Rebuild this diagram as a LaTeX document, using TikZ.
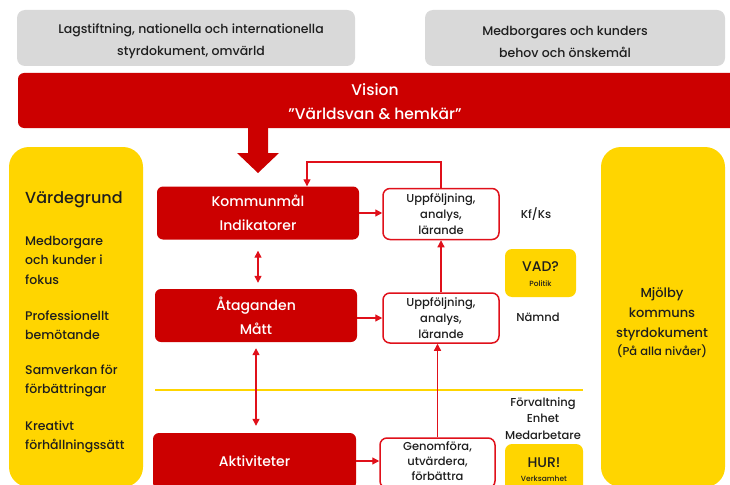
\documentclass[tikz,border=0pt]{standalone}
\usepackage{fontspec}
\setmainfont{Poppins}[UprightFont={* Medium}]
\usetikzlibrary{arrows.meta}
\definecolor{myred}{HTML}{CC0000}
\definecolor{lnred}{HTML}{E0101A}
\definecolor{myyel}{HTML}{FFD500}
\definecolor{mygray}{HTML}{D9D9D9}
\definecolor{txt}{HTML}{1E1E1E}
\begin{document}
\begin{tikzpicture}[x=1pt,y=-1pt,
  graybox/.style={fill=mygray, rounded corners=8pt, inner sep=0pt, text=txt, align=center, font=\fontsize{12.5}{22}\selectfont},
  redbox/.style={fill=myred, rounded corners=6pt, inner sep=0pt, text=white, align=center, font=\fontsize{14}{24}\selectfont},
  upbox/.style={draw=lnred, line width=1.5pt, fill=white, rounded corners=7pt, inner sep=0pt, text=txt, align=center, minimum width=116pt, font=\fontsize{11.5}{16}\selectfont},
  yelbox/.style={fill=myyel, rounded corners=20pt, inner sep=0pt},
  smallyel/.style={fill=myyel, rounded corners=7pt, inner sep=0pt, text=txt, align=center},
  lbl/.style={inner sep=0pt, text=txt, align=left, font=\fontsize{12.5}{19.5}\selectfont},
  side/.style={inner sep=0pt, text=txt, align=center, font=\fontsize{11.5}{16.5}\selectfont},
  conn/.style={draw=lnred, line width=1.3pt, -{Triangle[length=7pt,width=7pt]}},
  dbl/.style={draw=lnred, line width=1.3pt, {Triangle[length=7pt,width=7pt]}-{Triangle[length=7pt,width=7pt]}}
]
\useasboundingbox (0,0) rectangle (730,484);
\clip (0,0) rectangle (730,484);
\fill[white] (0,0) rectangle (730,484);

% top gray boxes
\node[graybox, minimum width=338pt, minimum height=56pt] (g1) at (186,38) {};
\node[inner sep=0pt, text=txt, align=center, font=\fontsize{12.5}{22}\selectfont] (g1t) at (191,41.5) {Lagstiftning, nationella och internationella\\styrdokument, omvärld};
\node[graybox, minimum width=300pt, minimum height=56pt] (g2) at (575,38) {};
\node[inner sep=0pt, text=txt, align=center, font=\fontsize{12.5}{22}\selectfont] (g2t) at (565,41.5) {Medborgares och kunders\\behov och önskemål};

% vision
\node[redbox, minimum width=730pt, minimum height=55pt] (vis) at (383,100.5) {};
\node[inner sep=0pt, text=white, align=center, font=\fontsize{15.5}{24}\selectfont] (vistext) at (375,102) {Vision\\”Världsvan \& hemkär”};

% big arrow
\fill[myred] (248,128) -- (268,128) -- (268,153) -- (279,153) -- (258,173) -- (237,153) -- (248,153) -- cycle;

% side yellow boxes
\node[yelbox, minimum width=134pt, minimum height=340pt] (yl) at (76,317) {};
\node[yelbox, minimum width=124pt, minimum height=340pt] (yr) at (663,317) {};

% left texts
\node[lbl, anchor=west, font=\fontsize{16}{19}\selectfont] (v0) at (25,200) {Värdegrund};
\node[lbl, anchor=west] (v1) at (25,260) {Medborgare\\och kunder i\\fokus};
\node[lbl, anchor=west] (v2) at (25,325) {Professionellt\\bemötande};
\node[lbl, anchor=west] (v3) at (25,381) {Samverkan för\\förbättringar};
\node[lbl, anchor=west] (v4) at (25,437) {Kreativt\\förhållningssätt};

% right text
\node[side, font=\fontsize{13}{20}\selectfont] (mj) at (662,314) {Mjölby\\kommuns\\styrdokument};
\node[side, anchor=north, font=\fontsize{11.5}{14}\selectfont] (mj2) at (662,345) {(På alla nivåer)};

% red boxes
\node[redbox, minimum width=202pt, minimum height=53pt] (k) at (258,213) {Kommunmål\\Indikatorer};
\node[redbox, minimum width=202pt, minimum height=53pt] (a) at (256,315.5) {Åtaganden\\Mått};
\node[redbox, minimum width=203pt, minimum height=56pt] (akt) at (254.5,461) {Aktiviteter};

% follow-up boxes
\node[upbox, minimum height=51pt] (u1) at (441,214) {Uppföljning,\\analys,\\lärande};
\node[upbox, minimum height=50pt] (u2) at (441,318) {Uppföljning,\\analys,\\lärande};
\node[upbox, minimum width=115pt, minimum height=50pt] (gf) at (437.5,463) {};
\node[inner sep=0pt, text=txt, align=center, font=\fontsize{11.5}{15}\selectfont] (gft) at (437.5,461.5) {Genomföra,\\utvärdera,\\förbättra};

% yellow small boxes
\node[smallyel, minimum width=71pt, minimum height=48pt] (vad) at (540.5,273) {};
\node[inner sep=0pt, text=txt, font=\fontsize{14}{16}\selectfont] (vadt) at (540.5,267) {VAD?};
\node[inner sep=0pt, text=txt, font=\fontsize{7.5}{9}\selectfont] (vadp) at (540.5,284) {Politik};
\node[smallyel, minimum width=78pt, minimum height=50pt] (hur) at (544,469) {};
\node[inner sep=0pt, text=txt, font=\fontsize{14}{16}\selectfont] (hurt) at (544,463) {HUR!};
\node[inner sep=0pt, text=txt, font=\fontsize{7.5}{9}\selectfont] (hurv) at (544,479) {Verksamhet};

% side labels
\node[side] (kf) at (536,214) {Kf/Ks};
\node[side] (nm) at (538,317) {Nämnd};
\node[side] (fv) at (543,418.5) {Förvaltning\\Enhet\\Medarbetare};

% yellow line
\coordinate (yl1) at (155,390);
\coordinate (yl2) at (583,390);
\draw[myyel, line width=1.5pt] (yl1) -- (yl2);

% connectors
\coordinate (fb) at (307,162);
\draw[conn] (u1.north) |- (fb) -- (fb |- k.north);
\draw[conn] (k.east) -- (k.east -| u1.west);
\draw[conn] (a.east |- u2.west) -- (u2.west);
\draw[conn] (akt.east) -- (akt.east -| gf.west);
\draw[conn] (u2.north) -- (u2.north |- u1.south);
\draw[conn] (gf.north) -- (gf.north |- u2.south);
\draw[dbl] ([yshift=-11pt]k.south) -- ([yshift=6pt]k.south |- a.north);
\draw[dbl] ([yshift=-6pt]a.south) -- ([yshift=7pt]a.south |- akt.north);
\end{tikzpicture}
\end{document}
